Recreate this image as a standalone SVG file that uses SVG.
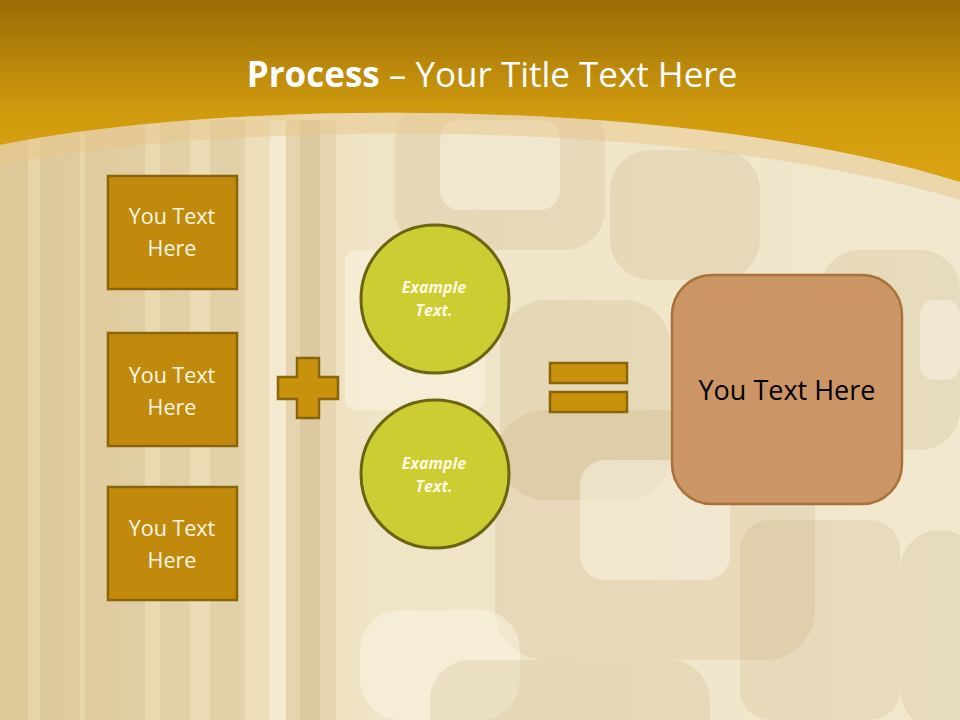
<svg xmlns="http://www.w3.org/2000/svg" width="960" height="720" viewBox="0 0 960 720">
<defs>
<linearGradient id="hdr" x1="0" y1="0" x2="0" y2="1">
<stop offset="0" stop-color="#9a6c06"/>
<stop offset="0.6" stop-color="#cf9a0e"/>
<stop offset="1" stop-color="#dca312"/>
</linearGradient>
<linearGradient id="bg" x1="0" y1="0" x2="1" y2="0">
<stop offset="0" stop-color="#e6d3a4"/>
<stop offset="0.4" stop-color="#efe4c6"/>
<stop offset="1" stop-color="#f1e8cf"/>
</linearGradient>
<style>
.box{fill:#c28a0c;stroke:#8a6408;stroke-width:2.5}
.bt{font-family:"Open Sans","Liberation Sans",sans-serif;font-size:21.5px;fill:#fff8e8;text-anchor:middle}
.circ{fill:#cccc33;stroke:#6b6410;stroke-width:3}
.ct{font-family:"Open Sans","Liberation Sans",sans-serif;font-size:16px;font-weight:bold;font-style:italic;fill:#fffbe0;text-anchor:middle}
.op{fill:#c8920c;stroke:#8a6408;stroke-width:2.5}
.bs{fill:#a07838;opacity:0.11}
.bd{fill:#8a5a10;opacity:0.09}
.bl{fill:#fbf6e6;opacity:0.5}
</style>
</defs>
<g id="background">
<rect width="960" height="720" fill="url(#bg)"/>
<rect x="0" y="120" width="28" height="600" class="bd"/>
<rect x="40" y="120" width="40" height="600" class="bs"/>
<rect x="85" y="120" width="60" height="600" class="bd"/>
<rect x="160" y="120" width="30" height="600" class="bs"/>
<rect x="210" y="120" width="35" height="600" class="bd"/>
<rect x="270" y="120" width="16" height="600" class="bl"/>
<rect x="286" y="120" width="50" height="600" class="bs"/>
<rect x="300" y="120" width="20" height="600" class="bd"/>
<rect x="395" y="100" width="210" height="150" rx="40" class="bs"/>
<rect x="440" y="120" width="120" height="90" rx="20" class="bl"/>
<rect x="610" y="150" width="150" height="130" rx="40" class="bd"/>
<rect x="345" y="250" width="140" height="160" rx="10" class="bl"/>
<rect x="500" y="300" width="170" height="200" rx="45" class="bd"/>
<rect x="495" y="410" width="320" height="250" rx="50" class="bs"/>
<rect x="580" y="460" width="150" height="120" rx="25" class="bl"/>
<rect x="820" y="250" width="140" height="200" rx="40" class="bd"/>
<rect x="920" y="300" width="40" height="80" rx="15" class="bl"/>
<rect x="360" y="610" width="160" height="110" rx="40" class="bl"/>
<rect x="430" y="660" width="280" height="100" rx="40" class="bd"/>
<rect x="900" y="530" width="80" height="200" rx="40" class="bd"/>
<rect x="740" y="520" width="160" height="200" rx="30" class="bs"/>
</g>
<g id="header">
<path d="M0,0 H960 V182 C 700,100 250,95 0,145 Z" fill="url(#hdr)"/>
<path d="M0,145 C 250,95 700,100 960,182 L960,200 C 700,120 250,117 0,165 Z" fill="#e8c58a" opacity="0.5"/>
<text x="492" y="87" font-family="Open Sans,Liberation Sans,sans-serif" font-size="35" fill="#ffffff" text-anchor="middle"><tspan font-weight="bold">Process</tspan> – Your Title Text Here</text>
</g>
<g id="box1">
<rect class="box" x="108" y="176" width="129" height="113"/>
<text class="bt" x="172" y="224">You Text</text>
<text class="bt" x="172" y="256">Here</text>
</g>
<g id="box2">
<rect class="box" x="108" y="333" width="129" height="113"/>
<text class="bt" x="172" y="383">You Text</text>
<text class="bt" x="172" y="415">Here</text>
</g>
<g id="box3">
<rect class="box" x="108" y="487" width="129" height="113"/>
<text class="bt" x="172" y="536">You Text</text>
<text class="bt" x="172" y="568">Here</text>
</g>
<g id="plus">
<path class="op" d="M297,358 H319 V377 H338 V399 H319 V418 H297 V399 H278 V377 H297 Z"/>
</g>
<g id="circle1">
<circle class="circ" cx="435" cy="299" r="74"/>
<text class="ct" x="434" y="293">Example</text>
<text class="ct" x="434" y="316">Text.</text>
</g>
<g id="circle2">
<circle class="circ" cx="435" cy="474" r="74"/>
<text class="ct" x="434" y="469">Example</text>
<text class="ct" x="434" y="492">Text.</text>
</g>
<g id="equals">
<rect class="op" x="550" y="363" width="77" height="20"/>
<rect class="op" x="550" y="392" width="77" height="20"/>
</g>
<g id="result">
<rect x="672" y="275" width="230" height="229" rx="40" fill="#cc9566" stroke="#a8713a" stroke-width="2.5"/>
<text x="787" y="400" font-family="Open Sans,Liberation Sans,sans-serif" font-size="27" fill="#000" text-anchor="middle">You Text Here</text>
</g>
<g id="connectors"/>
</svg>
